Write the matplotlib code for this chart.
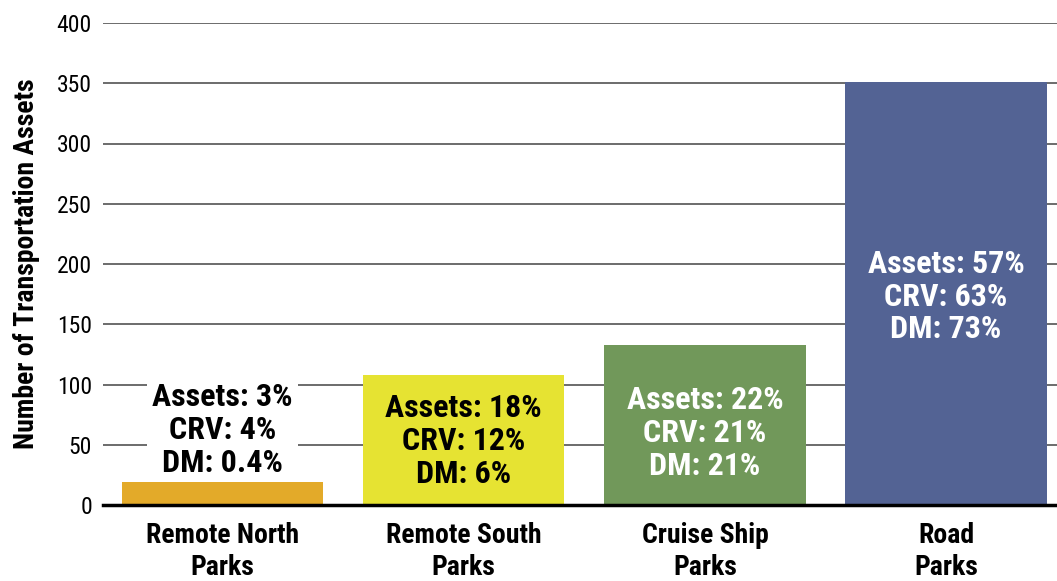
import matplotlib
matplotlib.use("Agg")
import matplotlib.pyplot as plt

categories = ["Remote North\nParks", "Remote South\nParks", "Cruise Ship\nParks", "Road\nParks"]
values = [19, 108, 133, 351]
assets = ["3%", "18%", "22%", "57%"]
crv = ["4%", "12%", "21%", "63%"]
dm = ["0.4%", "6%", "21%", "73%"]
label_y = [62, 53, 60, 173]
colors = ["#E3AA29", "#E6E332", "#71985A", "#536394"]
text_colors = ["black", "black", "white", "white"]
yticks = [0, 50, 100, 150, 200, 250, 300, 350, 400]

plt.rcParams["font.family"] = ["Roboto Condensed", "Archivo Narrow", "Liberation Sans", "DejaVu Sans"]

fig = plt.figure(figsize=(10.57, 5.81), dpi=100)
ax = fig.add_axes([103/1057, 1 - 505/581, (1057-103)/1057, (505-23)/581])

x = list(range(len(categories)))
ax.bar(x, values, width=0.835, color=colors, zorder=2)
ax.set_xlim(-0.496, 3.46)
ax.set_ylim(0, 400)
ax.set_yticks(yticks)
ax.set_yticklabels([str(t) for t in yticks], fontsize=17)
ax.yaxis.grid(True, color="#6b6b6b", linewidth=1.4, zorder=0)
ax.set_axisbelow(True)
ax.tick_params(axis="y", length=0, pad=8)
ax.tick_params(axis="x", length=0, pad=12)
ax.set_xticks(x)
ax.set_xticklabels(categories, fontsize=20, fontweight="bold", linespacing=1.27)
for s in ["top", "right", "left"]:
    ax.spines[s].set_visible(False)
ax.spines["bottom"].set_linewidth(2.5)
ax.spines["bottom"].set_color("black")
ax.spines["bottom"].set_zorder(3)
ax.set_ylabel("Number of Transportation Assets", fontsize=20, fontweight="bold", labelpad=12)

for i in range(len(categories)):
    txt = f"Assets: {assets[i]}\nCRV: {crv[i]}\nDM: {dm[i]}"
    kw = {}
    z = 4
    if i == 0:
        kw["bbox"] = dict(facecolor="white", edgecolor="none", pad=4)
        z = 1.5
    ax.text(x[i], label_y[i], txt, ha="center", va="center", fontsize=23,
            fontweight="bold", color=text_colors[i], linespacing=1.12, zorder=z, **kw)

fig.savefig("out.png", dpi=100)
